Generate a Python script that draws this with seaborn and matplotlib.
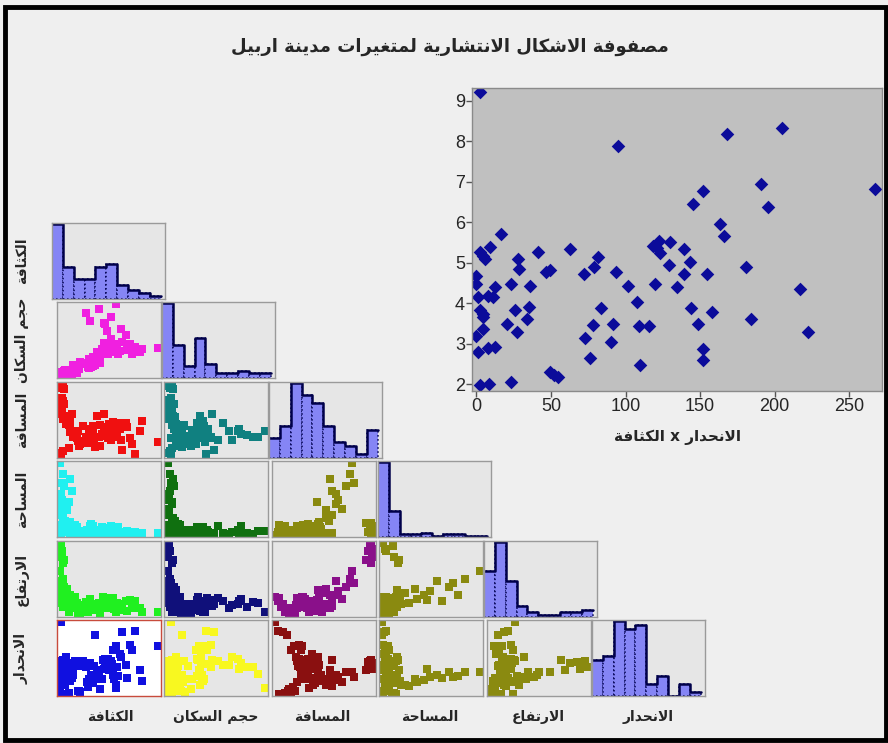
import numpy as np
import pandas as pd
import matplotlib
matplotlib.use("Agg")
import matplotlib.pyplot as plt
import seaborn as sns
from matplotlib.patches import Rectangle

# one entry per district, same order in every list
density = [2.2, 94.9, 167.9, 204.7, 267.6, 191.1, 151.8, 195.8, 145.1, 163.4,
           165.9, 16.7, 2.2, 4.5, 6.0, 8.9, 27.7, 28.3, 41.1, 62.9,
           46.9, 49.1, 0.0, 0.0, 23.4, 36.2, 12.3, 1.1, 7.8, 11.2,
           2.2, 4.5, 4.5, 26.1, 35.0, 33.9, 20.5, 4.5, 27.2, 0.0,
           1.1, 7.8, 12.7, 2.7, 8.3, 23.4, 49.6, 52.2, 54.7, 72.5,
           76.3, 77.9, 83.7, 72.3, 79.0, 81.5, 93.8, 91.3, 90.4, 101.6,
           107.6, 108.9, 115.6, 109.4, 119.9, 118.3, 122.1, 123.2, 121.0, 129.9,
           129.0, 134.8, 139.5, 142.9, 139.5, 144.0, 148.4, 152.2, 152.2, 154.5,
           157.8, 180.8, 184.2, 217.0, 222.5]
slope = [9.20, 7.88, 8.17, 8.33, 6.81, 6.94, 6.77, 6.36, 6.44, 5.95,
         5.66, 5.71, 5.25, 5.17, 5.09, 5.38, 5.09, 4.84, 5.26, 5.33,
         4.78, 4.82, 4.66, 4.48, 4.48, 4.43, 4.39, 4.14, 4.18, 4.14,
         3.84, 3.73, 3.65, 3.82, 3.90, 3.61, 3.49, 3.36, 3.28, 3.20,
         2.79, 2.89, 2.91, 1.99, 2.01, 2.06, 2.29, 2.23, 2.17, 3.15,
         2.64, 3.45, 3.89, 4.72, 4.88, 5.13, 4.76, 3.49, 3.04, 4.43,
         4.02, 3.44, 3.44, 2.46, 4.48, 5.40, 5.54, 5.23, 5.37, 5.50,
         4.93, 4.39, 5.34, 5.01, 4.72, 3.89, 3.49, 2.87, 2.59, 4.72,
         3.78, 4.89, 3.61, 4.35, 3.28]
population = [4, 16, 48, 40, 39, 45, 33, 30, 41, 35,
              66, 9, 2, 3, 1, 5, 7, 9, 14, 18,
              4, 12, 0.5, 0.3, 5, 11, 6, 1, 3, 7,
              2, 2.5, 4, 6, 16, 3, 2, 5, 8, 0.8,
              2, 6, 8, 1.5, 3, 5, 15, 9.5, 19, 17,
              13, 24, 12, 88, 11, 76, 22, 26, 14, 34,
              93, 18, 37, 25, 74, 32, 72, 35, 46, 31,
              63, 33, 52, 42, 82, 36, 38, 34, 100, 45,
              31, 57, 36, 33, 37]
distance = [2, 14, 10, 5, 21, 26, 29, 18, 28, 39,
            23, 45, 96, 94, 98, 97, 38, 34, 30, 42,
            26, 36, 97, 99, 44, 28, 92, 78, 76, 72,
            62, 64, 80, 56, 33, 58, 52, 62, 46, 68,
            58, 52, 55, 6, 8, 12, 22, 15, 18, 24,
            20, 29, 35, 27, 38, 32, 25, 37, 42, 56,
            28, 44, 31, 16, 39, 29, 35, 41, 58, 26,
            36, 45, 24, 38, 30, 48, 43, 40, 36, 27,
            47, 46, 41, 35, 49]
area = [2, 2, 4, 6, 5, 3, 8, 5, 9, 4,
        6, 16, 13, 6, 14, 17, 6, 4, 15, 7,
        12, 5, 3, 5, 45, 8, 18, 96, 82, 66,
        55, 48, 70, 75, 6, 60, 34, 42, 19, 36,
        28, 24, 20, 15, 12, 14, 4, 7, 3, 8,
        6, 5, 16, 3, 9, 14, 6, 4, 13, 5,
        7, 3, 12, 9, 4, 6, 8, 11, 5, 7,
        3, 9, 13, 6, 4, 10, 8, 5, 7, 3,
        12, 4, 7, 3, 5]
elevation = [28, 12, 18, 22, 9, 24, 16, 13, 26, 11,
             17, 36, 92, 85, 78, 70, 22, 14, 28, 17,
             20, 12, 95, 88, 24, 16, 74, 60, 50, 40,
             48, 35, 45, 30, 19, 22, 38, 30, 26, 25,
             20, 32, 18, 26, 15, 8, 6, 10, 5, 14,
             9, 18, 15, 21, 13, 25, 19, 11, 16, 14,
             20, 12, 17, 7, 23, 27, 18, 22, 16, 24,
             13, 19, 26, 21, 15, 18, 12, 10, 8, 20,
             14, 23, 10, 14, 8]

var_names = ["الكثافة", "حجم السكان", "المسافة", "المساحة", "الارتفاع", "الانحدار"]
title_text = "مصفوفة الاشكال الانتشارية لمتغيرات مدينة اربيل"
inset_label = "الانحدار x الكثافة"

df = pd.DataFrame({
    var_names[0]: density,
    var_names[1]: population,
    var_names[2]: distance,
    var_names[3]: area,
    var_names[4]: elevation,
    var_names[5]: slope,
})

# matplotlib has no arabic shaping, so pick the presentation forms by hand
FORMS = {
    'ا': ('\uFE8D', '\uFE8E', None, None),
    'ب': ('\uFE8F', '\uFE90', '\uFE91', '\uFE92'),
    'ة': ('\uFE93', '\uFE94', None, None),
    'ت': ('\uFE95', '\uFE96', '\uFE97', '\uFE98'),
    'ث': ('\uFE99', '\uFE9A', '\uFE9B', '\uFE9C'),
    'ج': ('\uFE9D', '\uFE9E', '\uFE9F', '\uFEA0'),
    'ح': ('\uFEA1', '\uFEA2', '\uFEA3', '\uFEA4'),
    'د': ('\uFEA9', '\uFEAA', None, None),
    'ر': ('\uFEAD', '\uFEAE', None, None),
    'س': ('\uFEB1', '\uFEB2', '\uFEB3', '\uFEB4'),
    'ش': ('\uFEB5', '\uFEB6', '\uFEB7', '\uFEB8'),
    'ص': ('\uFEB9', '\uFEBA', '\uFEBB', '\uFEBC'),
    'ع': ('\uFEC9', '\uFECA', '\uFECB', '\uFECC'),
    'غ': ('\uFECD', '\uFECE', '\uFECF', '\uFED0'),
    'ف': ('\uFED1', '\uFED2', '\uFED3', '\uFED4'),
    'ك': ('\uFED9', '\uFEDA', '\uFEDB', '\uFEDC'),
    'ل': ('\uFEDD', '\uFEDE', '\uFEDF', '\uFEE0'),
    'م': ('\uFEE1', '\uFEE2', '\uFEE3', '\uFEE4'),
    'ن': ('\uFEE5', '\uFEE6', '\uFEE7', '\uFEE8'),
    'و': ('\uFEED', '\uFEEE', None, None),
    'ي': ('\uFEF1', '\uFEF2', '\uFEF3', '\uFEF4'),
}


def ar(text):
    chars = list(text)
    n = len(chars)
    out = []

    def dual(c):
        return c in FORMS and FORMS[c][2] is not None

    i = 0
    while i < n:
        c = chars[i]
        if c not in FORMS:
            out.append(c)
            i += 1
            continue
        joins_prev = i > 0 and dual(chars[i - 1])
        if c == 'ل' and i + 1 < n and chars[i + 1] == 'ا':
            out.append('\uFEFC' if joins_prev else '\uFEFB')
            i += 2
            continue
        joins_next = dual(c) and i + 1 < n and chars[i + 1] in FORMS
        iso, fin, ini, med = FORMS[c]
        if joins_prev and joins_next:
            out.append(med)
        elif joins_prev:
            out.append(fin)
        elif joins_next:
            out.append(ini)
        else:
            out.append(iso)
        i += 1
    return ''.join(reversed(out))


sns.set_style("white")
plt.rcParams['font.family'] = ['DejaVu Sans']

W, H = 888, 743
fig = plt.figure(figsize=(W / 100, H / 100), dpi=100)
fig.patch.set_facecolor('#efefef')


def px_axes(x0, y0, x1, y1):
    return fig.add_axes([x0 / W, 1 - y1 / H, (x1 - x0) / W, (y1 - y0) / H])


def plain(ax, face='#e6e6e6', edge='#9a9a9a'):
    ax.set_facecolor(face)
    ax.set_xticks([])
    ax.set_yticks([])
    ax.set_xlabel('')
    ax.set_ylabel('')
    for sp in ax.spines.values():
        sp.set_visible(True)
        sp.set_color(edge)
        sp.set_linewidth(1)


col_left = [57, 164, 272, 379, 487]
col_w = 104
hist_left = [52, 162, 269, 378, 484, 592]
hist_w = 113
row_top = [223, 302, 382, 461, 541, 620]
row_h = 76

colors = {
    (1, 0): '#f020e0',
    (2, 0): '#f01010', (2, 1): '#108080',
    (3, 0): '#20f0f0', (3, 1): '#107010', (3, 2): '#8a8a10',
    (4, 0): '#20f020', (4, 1): '#10107a', (4, 2): '#8a108a', (4, 3): '#8a8a10',
    (5, 0): '#1010e0', (5, 1): '#f8f820', (5, 2): '#8a1010', (5, 3): '#8a8a10',
    (5, 4): '#8a8a10',
}


def lims(v, pad=0.03):
    lo, hi = np.min(v), np.max(v)
    r = hi - lo
    return lo - pad * r, hi + pad * r


for i, yv in enumerate(var_names):
    top = row_top[i]
    for j in range(i + 1):
        xv = var_names[j]
        if i == j:
            ax = px_axes(hist_left[j], top, hist_left[j] + hist_w, top + row_h)
            sns.histplot(x=df[xv], bins=10, ax=ax, color='#8585f5', alpha=1,
                         edgecolor='#000050', linewidth=1.1, linestyle=':')
            sns.histplot(x=df[xv], bins=10, ax=ax, element='step', fill=False,
                         color='#00004a', linewidth=1.8)
            hmax = max(p.get_height() for p in ax.patches)
            ax.set_ylim(0, hmax * 1.01)
            lo, hi = df[xv].min(), df[xv].max()
            ax.set_xlim(lo, hi + 0.04 * (hi - lo))
            plain(ax)
        else:
            ax = px_axes(col_left[j], top, col_left[j] + col_w, top + row_h)
            sns.scatterplot(x=df[xv], y=df[yv], ax=ax, marker='s', s=34,
                            color=colors[(i, j)], linewidth=0)
            ax.set_xlim(*lims(df[xv]))
            ax.set_ylim(*lims(df[yv]))
            if (i, j) == (5, 0):
                plain(ax, face='white', edge='#c84b3c')
            else:
                plain(ax)

    # row label on the left
    fig.text(22 / W, 1 - (top + row_h / 2) / H, ar(yv), rotation=90,
             ha='center', va='center', fontsize=10, fontweight='bold')

label_x = [110, 216, 322, 430, 538, 648]
for k, name in enumerate(var_names):
    fig.text(label_x[k] / W, 1 - 717 / H, ar(name), ha='center', va='center',
             fontsize=10, fontweight='bold')

# big view of slope against density
ax = px_axes(472, 88, 882, 391)
sns.scatterplot(x=df[var_names[0]], y=df[var_names[5]], ax=ax, marker='D',
                s=48, color='#0b0b9a', linewidth=0)
ax.set_facecolor('#c0c0c0')
ax.set_xlim(-3, 272)
ax.set_ylim(1.83, 9.31)
ax.set_xticks([0, 50, 100, 150, 200, 250])
ax.set_yticks([2, 3, 4, 5, 6, 7, 8, 9])
ax.tick_params(direction='out', length=4, width=1, color='#555555',
               labelsize=13, pad=1, left=True, bottom=True)
for lab in ax.get_xticklabels() + ax.get_yticklabels():
    lab.set_fontfamily('Liberation Sans')
ax.set_xlabel('')
ax.set_ylabel('')
for sp in ax.spines.values():
    sp.set_color('#8a8a8a')
    sp.set_linewidth(1)
fig.text(677 / W, 1 - 437 / H, ar(inset_label), ha='center', va='center',
         fontsize=11, fontweight='bold')

fig.text(450 / W, 1 - 47 / H, ar(title_text), ha='center', va='center',
         fontsize=13, fontweight='bold')

# outer frame
fig.add_artist(Rectangle((5 / W, 3 / H), 881 / W, 733 / H, transform=fig.transFigure,
                         fill=False, edgecolor='black', linewidth=3.5))

fig.savefig('out.png', dpi=100, facecolor=fig.get_facecolor())
